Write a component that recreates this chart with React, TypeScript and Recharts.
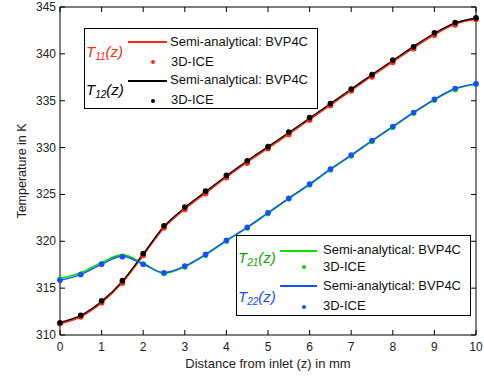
import { ComposedChart, Line, XAxis, YAxis } from "recharts"

const zValues = [0, 0.5, 1, 1.5, 2, 2.5, 3, 3.5, 4, 4.5, 5, 5.5, 6, 6.5, 7, 7.5, 8, 8.5, 9, 9.5, 10]

// T11: red, T12: black (upper pair)
const t11Bvp = [311.2, 311.95, 313.45, 315.6, 318.5, 321.45, 323.45, 325.15, 326.85, 328.45, 329.95, 331.45, 333.0, 334.55, 336.1, 337.65, 339.15, 340.65, 342.05, 343.2, 343.7]
const t11Ice = [311.2, 311.95, 313.45, 315.55, 318.5, 321.45, 323.4, 325.1, 326.8, 328.35, 329.9, 331.4, 332.95, 334.5, 336.05, 337.55, 339.1, 340.55, 342.0, 343.1, 343.7]
const t12Bvp = [311.35, 312.1, 313.6, 315.75, 318.65, 321.6, 323.6, 325.3, 327.0, 328.6, 330.1, 331.6, 333.15, 334.7, 336.25, 337.8, 339.3, 340.8, 342.2, 343.3, 343.8]
const t12Ice = [311.3, 312.1, 313.65, 315.8, 318.7, 321.65, 323.65, 325.35, 327.05, 328.6, 330.1, 331.65, 333.2, 334.7, 336.25, 337.8, 339.35, 340.75, 342.25, 343.35, 343.85]

// T21: green, T22: blue (lower pair)
const t21Bvp = [316.05, 316.65, 317.75, 318.55, 317.65, 316.6, 317.3, 318.55, 320.05, 321.45, 323.0, 324.55, 326.05, 327.65, 329.15, 330.7, 332.2, 333.7, 335.1, 336.25, 336.75]
const t21Ice = [315.95, 316.5, 317.6, 318.4, 317.55, 316.55, 317.25, 318.5, 320.0, 321.4, 322.95, 324.5, 326.0, 327.6, 329.1, 330.65, 332.15, 333.65, 335.05, 336.2, 336.75]
const t22Bvp = [315.85, 316.45, 317.55, 318.4, 317.55, 316.65, 317.35, 318.6, 320.1, 321.5, 323.05, 324.6, 326.1, 327.7, 329.2, 330.75, 332.25, 333.75, 335.15, 336.3, 336.8]
const t22Ice = [315.85, 316.45, 317.55, 318.35, 317.55, 316.65, 317.35, 318.6, 320.1, 321.5, 323.05, 324.6, 326.1, 327.7, 329.2, 330.75, 332.25, 333.75, 335.15, 336.3, 336.8]

const xTicks = [0, 1, 2, 3, 4, 5, 6, 7, 8, 9, 10]
const yTicks = [310, 315, 320, 325, 330, 335, 340, 345]

const RED = "#ff2a10"
const BLACK = "#000000"
const GREEN = "#00e000"
const BLUE = "#1450ff"
const FONT = "'Liberation Sans', Arial, sans-serif"

const chartData = zValues.map((z, i) => ({
  z,
  t11Bvp: t11Bvp[i],
  t11Ice: t11Ice[i],
  t12Bvp: t12Bvp[i],
  t12Ice: t12Ice[i],
  t21Bvp: t21Bvp[i],
  t21Ice: t21Ice[i],
  t22Bvp: t22Bvp[i],
  t22Ice: t22Ice[i],
}))

// ticks point inward, matlab style
const BottomTick = (props: any) => {
  const { x, y, payload } = props
  return (
    <g>
      <line x1={x} x2={x} y1={y} y2={y - 5} stroke="#000" />
      <text x={x} y={y + 16} textAnchor="middle" fontSize={12} fontFamily={FONT} fill="#222">
        {payload.value}
      </text>
    </g>
  )
}
const TopTick = (props: any) => {
  const { x, y } = props
  return <line x1={x} x2={x} y1={y} y2={y + 5} stroke="#000" />
}
const LeftTick = (props: any) => {
  const { x, y, payload } = props
  return (
    <g>
      <line x1={x} x2={x + 5} y1={y} y2={y} stroke="#000" />
      <text x={x - 4} y={y + 4} textAnchor="end" fontSize={12} fontFamily={FONT} fill="#222">
        {payload.value}
      </text>
    </g>
  )
}
const RightTick = (props: any) => {
  const { x, y } = props
  return <line x1={x} x2={x - 5} y1={y} y2={y} stroke="#000" />
}

const abs = (left: number, top: number): React.CSSProperties => ({
  position: "absolute",
  left,
  top,
})

const Label = (props: { left: number; y: number; color: string; sub: string }) => (
  <div
    style={{
      ...abs(props.left, props.y - 10),
      color: props.color,
      fontStyle: "italic",
      fontSize: 15,
      fontFamily: FONT,
      lineHeight: "20px",
      whiteSpace: "nowrap",
    }}
  >
    T<sub style={{ fontSize: 10, verticalAlign: "-3px" }}>{props.sub}</sub>(z)
  </div>
)

const Text = (props: { left: number; y: number; children: string }) => (
  <div
    style={{
      ...abs(props.left, props.y - 9),
      fontSize: 13,
      fontFamily: FONT,
      lineHeight: "18px",
      color: "#111",
      whiteSpace: "nowrap",
    }}
  >
    {props.children}
  </div>
)

const Swatch = (props: { x1: number; x2: number; y: number; color: string }) => (
  <div
    style={{
      ...abs(props.x1, props.y - 0.75),
      width: props.x2 - props.x1,
      height: 1.5,
      background: props.color,
    }}
  />
)

const Dot = (props: { x: number; y: number; color: string }) => (
  <div
    style={{
      ...abs(props.x - 2, props.y - 2),
      width: 4,
      height: 4,
      borderRadius: 2,
      background: props.color,
    }}
  />
)

const LegendBox = (props: { left: number; top: number; right: number; bottom: number }) => (
  <div
    style={{
      ...abs(props.left, props.top),
      width: props.right - props.left,
      height: props.bottom - props.top,
      border: "1px solid #000",
      background: "#fff",
      boxSizing: "border-box",
    }}
  />
)

export default function App() {
  return (
    <div style={{ position: "absolute", left: 0, top: 0, width: 484, height: 376, background: "#fff" }}>
      <ComposedChart
        width={484}
        height={376}
        data={chartData}
        margin={{ top: 6, right: 7, bottom: 40, left: 59 }}
      >
        <XAxis
          dataKey="z"
          type="number"
          domain={[0, 10]}
          ticks={xTicks}
          interval={0}
          height={1}
          tickSize={0}
          tickMargin={0}
          axisLine={{ stroke: "#000" }}
          tickLine={false}
          tick={<BottomTick />}
        />
        <XAxis
          xAxisId="top"
          orientation="top"
          dataKey="z"
          type="number"
          domain={[0, 10]}
          ticks={xTicks}
          interval={0}
          height={1}
          tickSize={0}
          tickMargin={0}
          axisLine={{ stroke: "#000" }}
          tickLine={false}
          tick={<TopTick />}
        />
        <YAxis
          type="number"
          domain={[310, 345]}
          ticks={yTicks}
          interval={0}
          width={1}
          tickSize={0}
          tickMargin={0}
          allowDataOverflow
          axisLine={{ stroke: "#000" }}
          tickLine={false}
          tick={<LeftTick />}
        />
        <YAxis
          yAxisId="right"
          orientation="right"
          type="number"
          domain={[310, 345]}
          ticks={yTicks}
          interval={0}
          width={1}
          tickSize={0}
          tickMargin={0}
          allowDataOverflow
          axisLine={{ stroke: "#000" }}
          tickLine={false}
          tick={<RightTick />}
        />

        <Line dataKey="t11Bvp" type="monotone" stroke={RED} strokeWidth={1.8} dot={false} activeDot={false} isAnimationActive={false} />
        <Line dataKey="t21Bvp" type="monotone" stroke={GREEN} strokeWidth={1.6} dot={false} activeDot={false} isAnimationActive={false} />
        <Line dataKey="t11Ice" stroke="none" dot={{ r: 2.9, fill: RED, stroke: "none" }} activeDot={false} isAnimationActive={false} />
        <Line dataKey="t21Ice" stroke="none" dot={{ r: 2.7, fill: GREEN, stroke: "none" }} activeDot={false} isAnimationActive={false} />
        <Line dataKey="t12Bvp" type="monotone" stroke={BLACK} strokeWidth={1.3} dot={false} activeDot={false} isAnimationActive={false} />
        <Line dataKey="t22Bvp" type="monotone" stroke={BLUE} strokeWidth={1.4} dot={false} activeDot={false} isAnimationActive={false} />
        <Line dataKey="t12Ice" stroke="none" dot={{ r: 2.8, fill: BLACK, stroke: "none" }} activeDot={false} isAnimationActive={false} />
        <Line dataKey="t22Ice" stroke="none" dot={{ r: 2.8, fill: BLUE, stroke: "none" }} activeDot={false} isAnimationActive={false} />
      </ComposedChart>

      {/* axis titles */}
      <div
        style={{
          ...abs(268 - 100, 356),
          width: 200,
          textAlign: "center",
          fontSize: 13,
          fontFamily: FONT,
          lineHeight: "16px",
          color: "#222",
        }}
      >
        Distance from inlet (z) in mm
      </div>
      <div
        style={{
          ...abs(22 - 60, 171 - 8),
          width: 120,
          textAlign: "center",
          fontSize: 12.5,
          fontFamily: FONT,
          lineHeight: "16px",
          color: "#222",
          transform: "rotate(-90deg)",
        }}
      >
        Temperature in K
      </div>

      {/* upper legend */}
      <LegendBox left={84} top={28} right={318} bottom={109} />
      <Label left={86} y={52} color={RED} sub="11" />
      <Swatch x1={128} x2={167} y={42} color={RED} />
      <Text left={170} y={42}>Semi-analytical: BVP4C</Text>
      <Dot x={153} y={62} color={RED} />
      <Text left={171} y={62}>3D-ICE</Text>
      <Label left={86} y={90} color={BLACK} sub="12" />
      <Swatch x1={128} x2={167} y={81} color={BLACK} />
      <Text left={170} y={80}>Semi-analytical: BVP4C</Text>
      <Dot x={153} y={101} color={BLACK} />
      <Text left={171} y={100}>3D-ICE</Text>

      {/* lower legend */}
      <LegendBox left={236} top={235} right={471} bottom={316} />
      <Label left={238} y={258} color="#10a010" sub="21" />
      <Swatch x1={280} x2={317} y={251} color={GREEN} />
      <Text left={323} y={250}>Semi-analytical: BVP4C</Text>
      <Dot x={304} y={267} color={GREEN} />
      <Text left={323} y={267}>3D-ICE</Text>
      <Label left={238} y={297} color={BLUE} sub="22" />
      <Swatch x1={280} x2={317} y={286} color={BLUE} />
      <Text left={323} y={286}>Semi-analytical: BVP4C</Text>
      <Dot x={304} y={307} color={BLUE} />
      <Text left={323} y={306}>3D-ICE</Text>
    </div>
  )
}
